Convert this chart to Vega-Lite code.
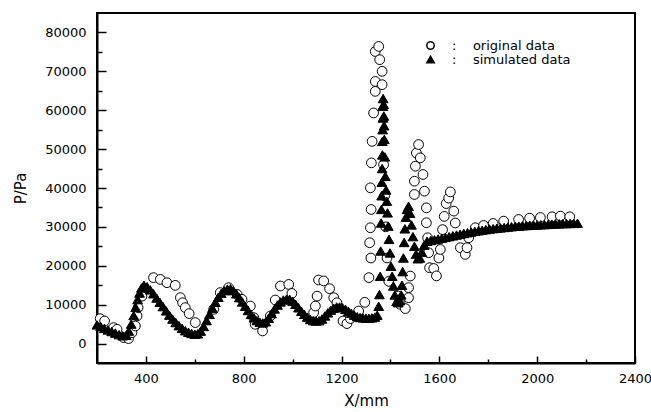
{
  "$schema": "https://vega.github.io/schema/vega-lite/v6.json",
  "width": 538,
  "height": 350,
  "autosize": {"type": "none"},
  "padding": {"left": 97, "top": 13, "right": 16, "bottom": 49},
  "config": {
    "view": {"stroke": "black", "strokeWidth": 2},
    "font": "DejaVu Sans",
    "axis": {
      "domainColor": "black", "domainWidth": 2, "tickColor": "black", "tickWidth": 1.5,
      "labelColor": "black", "titleColor": "black", "labelFontSize": 13, "titleFontSize": 15,
      "titleFontWeight": "normal", "grid": false, "labelFont": "DejaVu Sans", "titleFont": "DejaVu Sans"
    },
    "legend": {"labelFont": "DejaVu Sans", "labelColor": "black"}
  },
  "datasets": {
    "pts": [
      {"x": 213, "y": 6400, "series": "original data"},
      {"x": 231, "y": 5800, "series": "original data"},
      {"x": 268, "y": 4100, "series": "original data"},
      {"x": 282, "y": 3670, "series": "original data"},
      {"x": 309, "y": 1540, "series": "original data"},
      {"x": 329, "y": 1280, "series": "original data"},
      {"x": 343, "y": 2800, "series": "original data"},
      {"x": 357, "y": 4520, "series": "original data"},
      {"x": 364, "y": 7100, "series": "original data"},
      {"x": 368, "y": 9240, "series": "original data"},
      {"x": 384, "y": 12200, "series": "original data"},
      {"x": 431, "y": 16950, "series": "original data"},
      {"x": 459, "y": 16500, "series": "original data"},
      {"x": 486, "y": 15650, "series": "original data"},
      {"x": 520, "y": 14970, "series": "original data"},
      {"x": 541, "y": 11800, "series": "original data"},
      {"x": 550, "y": 10500, "series": "original data"},
      {"x": 561, "y": 9240, "series": "original data"},
      {"x": 577, "y": 7700, "series": "original data"},
      {"x": 602, "y": 5400, "series": "original data"},
      {"x": 677, "y": 8800, "series": "original data"},
      {"x": 704, "y": 13100, "series": "original data"},
      {"x": 738, "y": 14370, "series": "original data"},
      {"x": 773, "y": 12650, "series": "original data"},
      {"x": 793, "y": 11370, "series": "original data"},
      {"x": 827, "y": 9650, "series": "original data"},
      {"x": 841, "y": 6670, "series": "original data"},
      {"x": 847, "y": 4950, "series": "original data"},
      {"x": 877, "y": 3240, "series": "original data"},
      {"x": 909, "y": 7100, "series": "original data"},
      {"x": 929, "y": 11200, "series": "original data"},
      {"x": 950, "y": 14800, "series": "original data"},
      {"x": 984, "y": 15200, "series": "original data"},
      {"x": 997, "y": 12900, "series": "original data"},
      {"x": 1086, "y": 7960, "series": "original data"},
      {"x": 1093, "y": 9650, "series": "original data"},
      {"x": 1100, "y": 12200, "series": "original data"},
      {"x": 1106, "y": 16350, "series": "original data"},
      {"x": 1127, "y": 16100, "series": "original data"},
      {"x": 1151, "y": 14120, "series": "original data"},
      {"x": 1168, "y": 11800, "series": "original data"},
      {"x": 1181, "y": 10500, "series": "original data"},
      {"x": 1206, "y": 5800, "series": "original data"},
      {"x": 1222, "y": 5130, "series": "original data"},
      {"x": 1236, "y": 6420, "series": "original data"},
      {"x": 1270, "y": 8370, "series": "original data"},
      {"x": 1295, "y": 10600, "series": "original data"},
      {"x": 1312, "y": 16950, "series": "original data"},
      {"x": 1320, "y": 22000, "series": "original data"},
      {"x": 1315, "y": 25930, "series": "original data"},
      {"x": 1318, "y": 29780, "series": "original data"},
      {"x": 1321, "y": 34480, "series": "original data"},
      {"x": 1318, "y": 40050, "series": "original data"},
      {"x": 1322, "y": 46470, "series": "original data"},
      {"x": 1325, "y": 52000, "series": "original data"},
      {"x": 1331, "y": 59300, "series": "original data"},
      {"x": 1338, "y": 64850, "series": "original data"},
      {"x": 1338, "y": 67400, "series": "original data"},
      {"x": 1338, "y": 75100, "series": "original data"},
      {"x": 1352, "y": 76400, "series": "original data"},
      {"x": 1356, "y": 73000, "series": "original data"},
      {"x": 1366, "y": 70000, "series": "original data"},
      {"x": 1366, "y": 66570, "series": "original data"},
      {"x": 1372, "y": 46000, "series": "original data"},
      {"x": 1376, "y": 38000, "series": "original data"},
      {"x": 1381, "y": 30000, "series": "original data"},
      {"x": 1386, "y": 22000, "series": "original data"},
      {"x": 1393, "y": 16000, "series": "original data"},
      {"x": 1432, "y": 12200, "series": "original data"},
      {"x": 1440, "y": 10090, "series": "original data"},
      {"x": 1461, "y": 8990, "series": "original data"},
      {"x": 1474, "y": 11800, "series": "original data"},
      {"x": 1474, "y": 14380, "series": "original data"},
      {"x": 1481, "y": 17360, "series": "original data"},
      {"x": 1498, "y": 38330, "series": "original data"},
      {"x": 1498, "y": 41750, "series": "original data"},
      {"x": 1502, "y": 45600, "series": "original data"},
      {"x": 1506, "y": 49000, "series": "original data"},
      {"x": 1515, "y": 51170, "series": "original data"},
      {"x": 1522, "y": 47750, "series": "original data"},
      {"x": 1533, "y": 43470, "series": "original data"},
      {"x": 1539, "y": 39180, "series": "original data"},
      {"x": 1547, "y": 34900, "series": "original data"},
      {"x": 1547, "y": 31070, "series": "original data"},
      {"x": 1552, "y": 27200, "series": "original data"},
      {"x": 1556, "y": 23360, "series": "original data"},
      {"x": 1560, "y": 19500, "series": "original data"},
      {"x": 1577, "y": 19300, "series": "original data"},
      {"x": 1588, "y": 17400, "series": "original data"},
      {"x": 1598, "y": 22000, "series": "original data"},
      {"x": 1604, "y": 24200, "series": "original data"},
      {"x": 1613, "y": 29300, "series": "original data"},
      {"x": 1620, "y": 32700, "series": "original data"},
      {"x": 1628, "y": 36000, "series": "original data"},
      {"x": 1638, "y": 37400, "series": "original data"},
      {"x": 1645, "y": 39000, "series": "original data"},
      {"x": 1659, "y": 34050, "series": "original data"},
      {"x": 1665, "y": 31000, "series": "original data"},
      {"x": 1686, "y": 24650, "series": "original data"},
      {"x": 1706, "y": 22930, "series": "original data"},
      {"x": 1713, "y": 24650, "series": "original data"},
      {"x": 1720, "y": 27200, "series": "original data"},
      {"x": 1747, "y": 29780, "series": "original data"},
      {"x": 1781, "y": 30370, "series": "original data"},
      {"x": 1820, "y": 30890, "series": "original data"},
      {"x": 1863, "y": 31480, "series": "original data"},
      {"x": 1924, "y": 31910, "series": "original data"},
      {"x": 1969, "y": 32250, "series": "original data"},
      {"x": 2013, "y": 32420, "series": "original data"},
      {"x": 2061, "y": 32600, "series": "original data"},
      {"x": 2095, "y": 32770, "series": "original data"},
      {"x": 2133, "y": 32600, "series": "original data"},
      {"x": 200, "y": 4800, "series": "simulated data"},
      {"x": 215, "y": 4400, "series": "simulated data"},
      {"x": 230, "y": 3900, "series": "simulated data"},
      {"x": 245, "y": 3500, "series": "simulated data"},
      {"x": 260, "y": 3100, "series": "simulated data"},
      {"x": 275, "y": 2700, "series": "simulated data"},
      {"x": 290, "y": 2300, "series": "simulated data"},
      {"x": 305, "y": 2000, "series": "simulated data"},
      {"x": 320, "y": 2100, "series": "simulated data"},
      {"x": 330, "y": 3200, "series": "simulated data"},
      {"x": 340, "y": 5000, "series": "simulated data"},
      {"x": 350, "y": 7200, "series": "simulated data"},
      {"x": 358, "y": 9300, "series": "simulated data"},
      {"x": 366, "y": 11300, "series": "simulated data"},
      {"x": 374, "y": 13000, "series": "simulated data"},
      {"x": 382, "y": 14300, "series": "simulated data"},
      {"x": 392, "y": 15000, "series": "simulated data"},
      {"x": 405, "y": 14600, "series": "simulated data"},
      {"x": 418, "y": 13800, "series": "simulated data"},
      {"x": 431, "y": 12800, "series": "simulated data"},
      {"x": 444, "y": 11700, "series": "simulated data"},
      {"x": 457, "y": 10600, "series": "simulated data"},
      {"x": 470, "y": 9500, "series": "simulated data"},
      {"x": 483, "y": 8400, "series": "simulated data"},
      {"x": 496, "y": 7300, "series": "simulated data"},
      {"x": 509, "y": 6300, "series": "simulated data"},
      {"x": 522, "y": 5400, "series": "simulated data"},
      {"x": 535, "y": 4600, "series": "simulated data"},
      {"x": 548, "y": 3900, "series": "simulated data"},
      {"x": 561, "y": 3300, "series": "simulated data"},
      {"x": 574, "y": 2900, "series": "simulated data"},
      {"x": 587, "y": 2600, "series": "simulated data"},
      {"x": 600, "y": 2400, "series": "simulated data"},
      {"x": 612, "y": 2500, "series": "simulated data"},
      {"x": 624, "y": 3200, "series": "simulated data"},
      {"x": 636, "y": 4400, "series": "simulated data"},
      {"x": 648, "y": 5900, "series": "simulated data"},
      {"x": 660, "y": 7500, "series": "simulated data"},
      {"x": 672, "y": 9100, "series": "simulated data"},
      {"x": 684, "y": 10600, "series": "simulated data"},
      {"x": 696, "y": 11900, "series": "simulated data"},
      {"x": 708, "y": 12900, "series": "simulated data"},
      {"x": 720, "y": 13600, "series": "simulated data"},
      {"x": 733, "y": 14000, "series": "simulated data"},
      {"x": 746, "y": 14100, "series": "simulated data"},
      {"x": 758, "y": 13600, "series": "simulated data"},
      {"x": 770, "y": 12800, "series": "simulated data"},
      {"x": 782, "y": 11800, "series": "simulated data"},
      {"x": 794, "y": 10700, "series": "simulated data"},
      {"x": 806, "y": 9600, "series": "simulated data"},
      {"x": 818, "y": 8500, "series": "simulated data"},
      {"x": 830, "y": 7500, "series": "simulated data"},
      {"x": 842, "y": 6600, "series": "simulated data"},
      {"x": 854, "y": 5900, "series": "simulated data"},
      {"x": 866, "y": 5500, "series": "simulated data"},
      {"x": 878, "y": 5300, "series": "simulated data"},
      {"x": 890, "y": 5600, "series": "simulated data"},
      {"x": 902, "y": 6500, "series": "simulated data"},
      {"x": 914, "y": 7700, "series": "simulated data"},
      {"x": 926, "y": 8900, "series": "simulated data"},
      {"x": 938, "y": 9900, "series": "simulated data"},
      {"x": 950, "y": 10700, "series": "simulated data"},
      {"x": 962, "y": 11200, "series": "simulated data"},
      {"x": 975, "y": 11400, "series": "simulated data"},
      {"x": 988, "y": 11400, "series": "simulated data"},
      {"x": 1000, "y": 10900, "series": "simulated data"},
      {"x": 1012, "y": 10100, "series": "simulated data"},
      {"x": 1024, "y": 9200, "series": "simulated data"},
      {"x": 1036, "y": 8300, "series": "simulated data"},
      {"x": 1048, "y": 7500, "series": "simulated data"},
      {"x": 1060, "y": 6800, "series": "simulated data"},
      {"x": 1072, "y": 6200, "series": "simulated data"},
      {"x": 1084, "y": 5900, "series": "simulated data"},
      {"x": 1096, "y": 5800, "series": "simulated data"},
      {"x": 1108, "y": 5900, "series": "simulated data"},
      {"x": 1120, "y": 6300, "series": "simulated data"},
      {"x": 1132, "y": 7100, "series": "simulated data"},
      {"x": 1144, "y": 7900, "series": "simulated data"},
      {"x": 1156, "y": 8600, "series": "simulated data"},
      {"x": 1168, "y": 9100, "series": "simulated data"},
      {"x": 1180, "y": 9400, "series": "simulated data"},
      {"x": 1192, "y": 9400, "series": "simulated data"},
      {"x": 1204, "y": 9200, "series": "simulated data"},
      {"x": 1216, "y": 8800, "series": "simulated data"},
      {"x": 1228, "y": 8300, "series": "simulated data"},
      {"x": 1240, "y": 7800, "series": "simulated data"},
      {"x": 1252, "y": 7300, "series": "simulated data"},
      {"x": 1264, "y": 6900, "series": "simulated data"},
      {"x": 1276, "y": 6700, "series": "simulated data"},
      {"x": 1288, "y": 6600, "series": "simulated data"},
      {"x": 1300, "y": 6500, "series": "simulated data"},
      {"x": 1312, "y": 6500, "series": "simulated data"},
      {"x": 1324, "y": 6600, "series": "simulated data"},
      {"x": 1336, "y": 6800, "series": "simulated data"},
      {"x": 1346, "y": 7300, "series": "simulated data"},
      {"x": 1352, "y": 9600, "series": "simulated data"},
      {"x": 1355, "y": 12600, "series": "simulated data"},
      {"x": 1358, "y": 17300, "series": "simulated data"},
      {"x": 1360, "y": 23800, "series": "simulated data"},
      {"x": 1362, "y": 31000, "series": "simulated data"},
      {"x": 1363, "y": 34500, "series": "simulated data"},
      {"x": 1364, "y": 38000, "series": "simulated data"},
      {"x": 1365, "y": 41500, "series": "simulated data"},
      {"x": 1366, "y": 45000, "series": "simulated data"},
      {"x": 1367, "y": 48500, "series": "simulated data"},
      {"x": 1367, "y": 52000, "series": "simulated data"},
      {"x": 1368, "y": 55000, "series": "simulated data"},
      {"x": 1369, "y": 58000, "series": "simulated data"},
      {"x": 1369, "y": 61000, "series": "simulated data"},
      {"x": 1370, "y": 63000, "series": "simulated data"},
      {"x": 1372, "y": 61500, "series": "simulated data"},
      {"x": 1373, "y": 58500, "series": "simulated data"},
      {"x": 1374, "y": 56000, "series": "simulated data"},
      {"x": 1375, "y": 52500, "series": "simulated data"},
      {"x": 1377, "y": 48000, "series": "simulated data"},
      {"x": 1379, "y": 43000, "series": "simulated data"},
      {"x": 1382, "y": 39500, "series": "simulated data"},
      {"x": 1385, "y": 36600, "series": "simulated data"},
      {"x": 1388, "y": 33600, "series": "simulated data"},
      {"x": 1391, "y": 30200, "series": "simulated data"},
      {"x": 1394, "y": 26800, "series": "simulated data"},
      {"x": 1398, "y": 23300, "series": "simulated data"},
      {"x": 1402, "y": 19900, "series": "simulated data"},
      {"x": 1407, "y": 17300, "series": "simulated data"},
      {"x": 1412, "y": 14800, "series": "simulated data"},
      {"x": 1418, "y": 12500, "series": "simulated data"},
      {"x": 1425, "y": 10800, "series": "simulated data"},
      {"x": 1432, "y": 10500, "series": "simulated data"},
      {"x": 1438, "y": 11000, "series": "simulated data"},
      {"x": 1444, "y": 12500, "series": "simulated data"},
      {"x": 1447, "y": 15000, "series": "simulated data"},
      {"x": 1450, "y": 18500, "series": "simulated data"},
      {"x": 1453, "y": 22000, "series": "simulated data"},
      {"x": 1456, "y": 26000, "series": "simulated data"},
      {"x": 1459, "y": 29500, "series": "simulated data"},
      {"x": 1463, "y": 32500, "series": "simulated data"},
      {"x": 1468, "y": 34500, "series": "simulated data"},
      {"x": 1474, "y": 35300, "series": "simulated data"},
      {"x": 1480, "y": 33500, "series": "simulated data"},
      {"x": 1486, "y": 30500, "series": "simulated data"},
      {"x": 1492, "y": 27500, "series": "simulated data"},
      {"x": 1498, "y": 25000, "series": "simulated data"},
      {"x": 1505, "y": 23000, "series": "simulated data"},
      {"x": 1512, "y": 21800, "series": "simulated data"},
      {"x": 1520, "y": 22000, "series": "simulated data"},
      {"x": 1528, "y": 23500, "series": "simulated data"},
      {"x": 1538, "y": 25300, "series": "simulated data"},
      {"x": 1550, "y": 26300, "series": "simulated data"},
      {"x": 1565, "y": 26500, "series": "simulated data"},
      {"x": 1580, "y": 26700, "series": "simulated data"},
      {"x": 1595, "y": 26900, "series": "simulated data"},
      {"x": 1610, "y": 27100, "series": "simulated data"},
      {"x": 1625, "y": 27300, "series": "simulated data"},
      {"x": 1640, "y": 27500, "series": "simulated data"},
      {"x": 1655, "y": 27700, "series": "simulated data"},
      {"x": 1670, "y": 27900, "series": "simulated data"},
      {"x": 1685, "y": 28100, "series": "simulated data"},
      {"x": 1700, "y": 28300, "series": "simulated data"},
      {"x": 1715, "y": 28500, "series": "simulated data"},
      {"x": 1730, "y": 28700, "series": "simulated data"},
      {"x": 1745, "y": 28850, "series": "simulated data"},
      {"x": 1760, "y": 29000, "series": "simulated data"},
      {"x": 1775, "y": 29150, "series": "simulated data"},
      {"x": 1790, "y": 29300, "series": "simulated data"},
      {"x": 1805, "y": 29450, "series": "simulated data"},
      {"x": 1820, "y": 29550, "series": "simulated data"},
      {"x": 1835, "y": 29650, "series": "simulated data"},
      {"x": 1850, "y": 29750, "series": "simulated data"},
      {"x": 1865, "y": 29850, "series": "simulated data"},
      {"x": 1880, "y": 29950, "series": "simulated data"},
      {"x": 1895, "y": 30050, "series": "simulated data"},
      {"x": 1910, "y": 30150, "series": "simulated data"},
      {"x": 1925, "y": 30200, "series": "simulated data"},
      {"x": 1940, "y": 30300, "series": "simulated data"},
      {"x": 1955, "y": 30350, "series": "simulated data"},
      {"x": 1970, "y": 30400, "series": "simulated data"},
      {"x": 1985, "y": 30450, "series": "simulated data"},
      {"x": 2000, "y": 30500, "series": "simulated data"},
      {"x": 2015, "y": 30550, "series": "simulated data"},
      {"x": 2030, "y": 30600, "series": "simulated data"},
      {"x": 2045, "y": 30650, "series": "simulated data"},
      {"x": 2060, "y": 30700, "series": "simulated data"},
      {"x": 2075, "y": 30750, "series": "simulated data"},
      {"x": 2090, "y": 30800, "series": "simulated data"},
      {"x": 2105, "y": 30850, "series": "simulated data"},
      {"x": 2120, "y": 30850, "series": "simulated data"},
      {"x": 2135, "y": 30900, "series": "simulated data"},
      {"x": 2150, "y": 30900, "series": "simulated data"},
      {"x": 2165, "y": 30950, "series": "simulated data"}
    ]
  },
  "data": {"name": "pts"},
  "resolve": {"axis": {"x": "independent", "y": "independent"}},
  "layer": [
    {
      "mark": {"type": "point", "strokeOpacity": 0, "fillOpacity": 0},
      "encoding": {
        "x": {"field": "x", "type": "quantitative", "scale": {"domain": [200, 2400], "nice": false, "zero": false},
          "axis": {"orient": "bottom", "values": [600, 1000, 1400, 1800, 2200], "labels": false, "domain": false, "tickSize": -4, "title": null}},
        "y": {"field": "y", "type": "quantitative", "scale": {"domain": [-5000, 85000], "nice": false, "zero": false},
          "axis": {"orient": "left", "values": [5000, 15000, 25000, 35000, 45000, 55000, 65000, 75000], "labels": false, "domain": false, "tickSize": -5, "title": null}}
      }
    },
    {
      "mark": {"type": "point", "opacity": 1, "stroke": "black", "strokeWidth": 1, "size": 95},
      "encoding": {
        "x": {"field": "x", "type": "quantitative",
          "axis": {"orient": "bottom", "values": [400, 800, 1200, 1600, 2000, 2400], "tickSize": -7, "labelPadding": 16, "title": "X/mm", "titlePadding": 8, "labelFlush": false, "format": "d"}},
        "y": {"field": "y", "type": "quantitative",
          "axis": {"orient": "left", "values": [0, 10000, 20000, 30000, 40000, 50000, 60000, 70000, 80000], "tickSize": -9, "labelPadding": 20, "title": "P/Pa", "titlePadding": 16, "format": "d"}},
        "shape": {"field": "series", "type": "nominal", "title": null,
          "scale": {"domain": ["original data", "simulated data"], "range": ["circle", "triangle-up"]},
          "legend": {"title": null, "orient": "none", "legendX": 327, "legendY": 26, "symbolOpacity": 1, "symbolSize": 55, "labelFontSize": 13, "labelOffset": 15, "rowPadding": 0,
            "labelExpr": "':\u00a0\u00a0\u00a0\u00a0' + datum.label",
            "encode": {"symbols": {"update": {"stroke": {"value": "black"}, "strokeWidth": {"value": 1}}}}}},
        "fill": {"field": "series", "type": "nominal", "title": null,
          "scale": {"domain": ["original data", "simulated data"], "range": ["white", "black"]}}
      }
    }
  ]
}
